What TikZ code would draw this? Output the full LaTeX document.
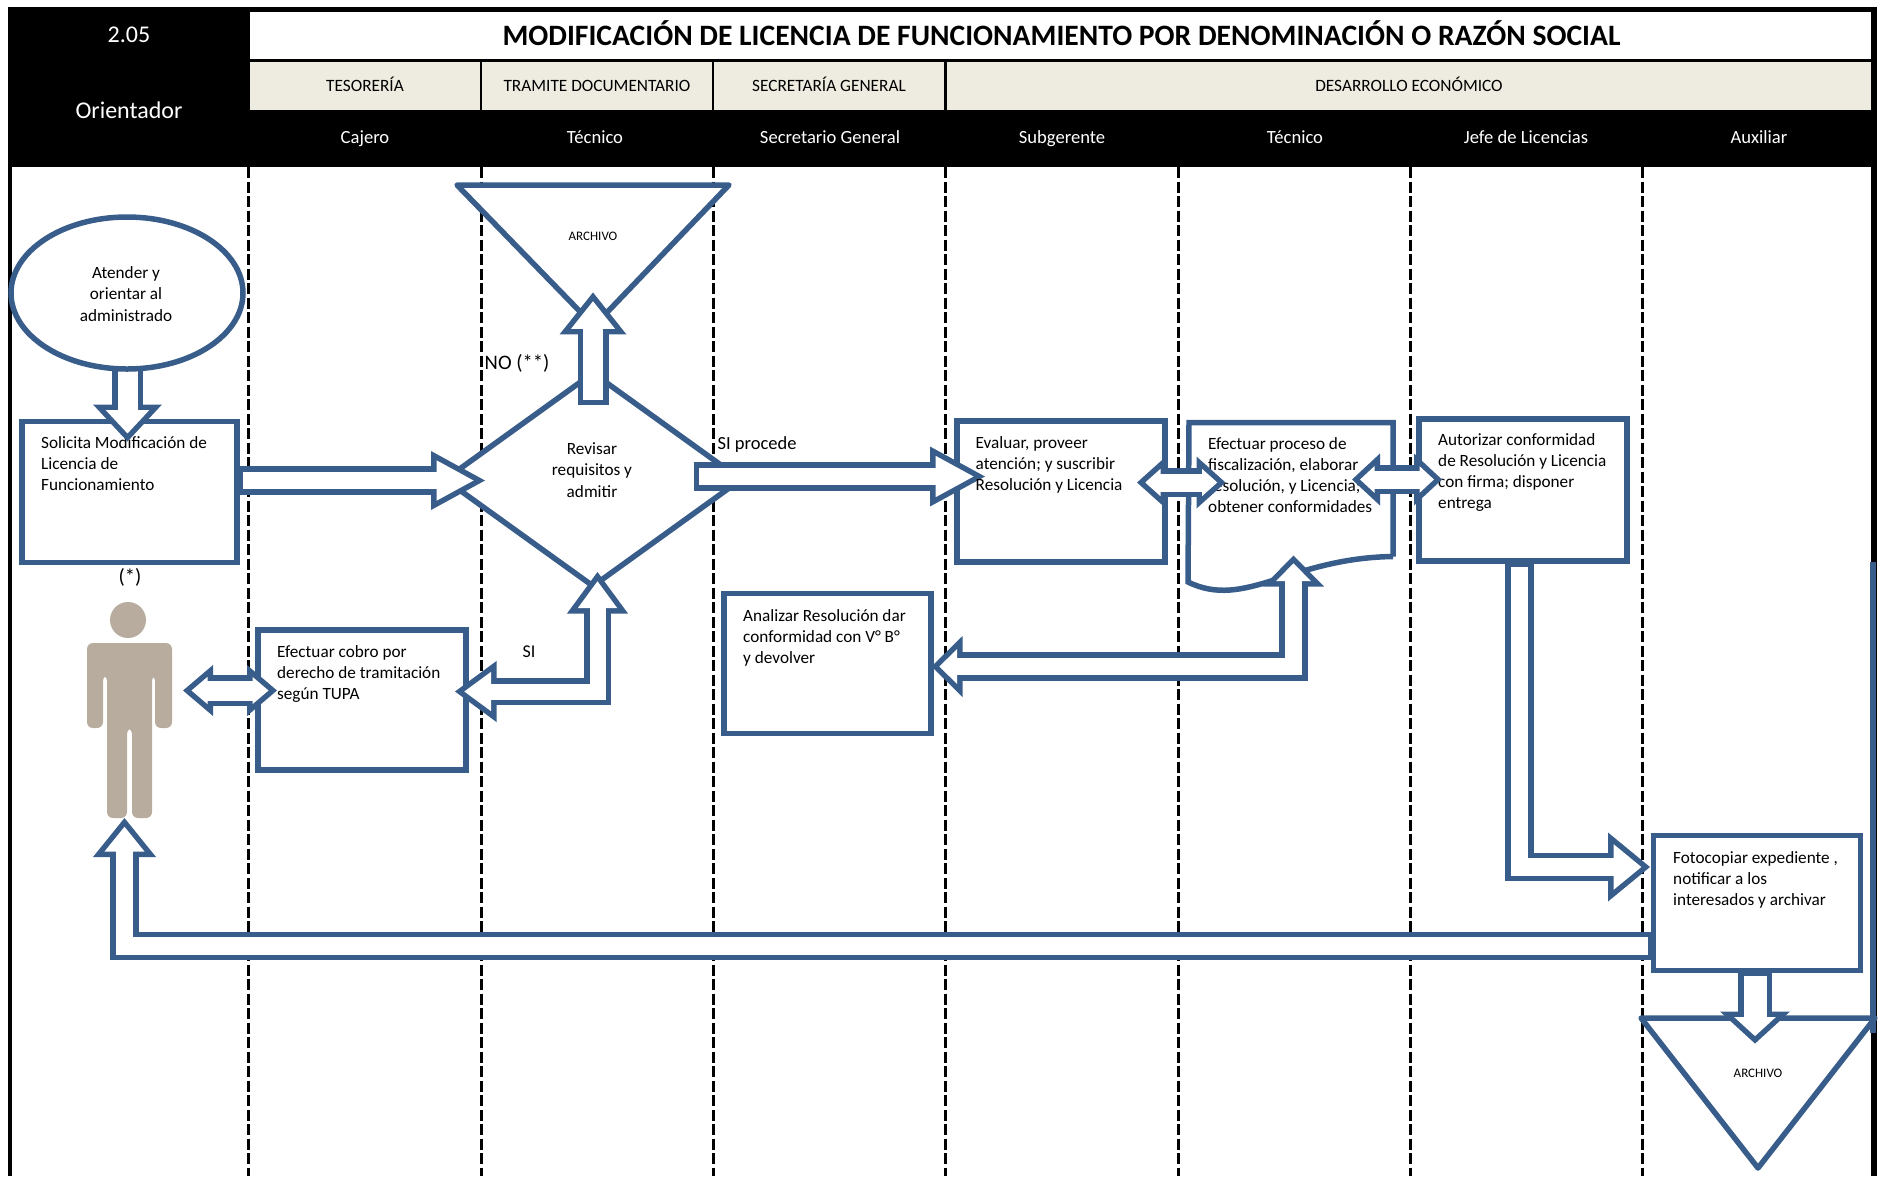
\documentclass[tikz,border=0pt]{standalone}
\usepackage{fontspec}
\setmainfont{Carlito}
\usetikzlibrary{arrows.meta,shapes.geometric}

\definecolor{flowblue}{HTML}{385D8A}
\definecolor{deptbeige}{HTML}{EEECE1}
\definecolor{personfill}{HTML}{B8AC9E}

\tikzset{
	lane/.style={draw=black,line width=3pt,dash pattern=on 11pt off 3.5pt},
	deptcell/.style={fill=deptbeige,minimum height=48pt,inner sep=0pt,text height=12pt,text depth=2pt,font=\fontsize{17.3}{20}\selectfont},
	rolename/.style={text=white,inner sep=0pt,text height=13pt,text depth=4pt,font=\fontsize{18.6}{22}\selectfont},
	pasobox/.style={draw=flowblue,fill=white,line width=5.5pt,line join=miter,inner sep=0pt,outer sep=0pt},
	pasotext/.style={anchor=north west,align=left,inner sep=0pt,execute at begin node={\rule{0pt}{13pt}},font=\fontsize{17.2}{21}\selectfont},
	centertext/.style={align=center,inner sep=0pt,execute at begin node={\rule{0pt}{13pt}},font=\fontsize{17.2}{21.5}\selectfont},
	archivotext/.style={inner sep=0pt,font=\fontsize{13}{15}\selectfont},
	marktext/.style={inner sep=0pt,font=\fontsize{20.6}{24}\selectfont},
	flowout/.style={draw=flowblue,line join=miter},
	flowin/.style={draw=white,line join=miter},
	tipend/.style 2 args={-{Triangle[length=#1pt,width=#2pt,line width=0pt]}},
	tipboth/.style 2 args={{Triangle[length=#1pt,width=#2pt,line width=0pt]}-{Triangle[length=#1pt,width=#2pt,line width=0pt]}},
	tipendouter/.style={shorten <=0pt},
	tipbothouter/.style={shorten <=\outercut pt},
	tipendcut/.style={shorten <=5.5pt},
	tipbothcut/.style={shorten <=\headcut pt},
	tipendbody/.style={shorten <=5.5pt},
	tipbothbody/.style={shorten <=\bodycut pt},
}

% tip kind, head length, head width, shaft width, path
\newcommand{\flow}[5]{%
	\pgfmathsetmacro{\headcut}{5.5/sin(atan2(#3/2,#2))}
	\pgfmathsetmacro{\innerlen}{#2-5.5-\headcut}
	\pgfmathsetmacro{\innerwid}{#3*\innerlen/#2}
	\pgfmathsetmacro{\innershaft}{#4-11}
	\pgfmathsetmacro{\bodycut}{\headcut+\innerlen-3}
	\pgfmathsetmacro{\outercut}{#2-3}
	\draw[flowout,line width=#4pt,#1={#2}{#3}] #5;
	\draw[flowout,line width=#4pt,shorten >=\outercut pt,#1outer] #5;
	\draw[flowin,line width=\innershaft pt,#1={\innerlen}{\innerwid},shorten >=\headcut pt,#1cut] #5;
	\draw[flowin,line width=\innershaft pt,shorten >=\bodycut pt,#1body] #5;
}

\begin{document}
\begin{tikzpicture}[x=1pt,y=-1pt]
	\useasboundingbox (0,0) rectangle (1881,1176);
	
	% Swim lanes
	\foreach \lanex in {248,481,713,945,1178,1410,1642}
		\draw[lane] (\lanex,167) -- (\lanex,1176);
	
	% Frame and header
	\fill[black] (8,7) rectangle (1877,167);
	\fill[black] (8,167) rectangle (12,1176);
	\fill[black] (1871,167) rectangle (1877,1176);
	\fill[flowblue] (1870,562) rectangle (1876,1033);
	\node[fill=white,minimum width=1621pt,minimum height=47pt,inner sep=0pt,font=\fontsize{29.6}{34}\selectfont\bfseries] (titulo) at (1060.5,35.5) {\hspace*{2pt}\raisebox{4pt}{MODIFICACIÓN DE LICENCIA DE FUNCIONAMIENTO POR DENOMINACIÓN O RAZÓN SOCIAL}};
	\node[rolename,font=\fontsize{24}{28}\selectfont] (codigo) at (129,38) {2.05};
	\node[rolename,font=\fontsize{24}{28}\selectfont] (orientador) at (129,114) {Orientador};
	
	\node[deptcell,minimum width=230pt] (tesoreria) at (365,86) {TESORERÍA};
	\node[deptcell,minimum width=230pt] (tramite) at (597,86) {TRAMITE DOCUMENTARIO};
	\node[deptcell,minimum width=230pt] (secretaria) at (829,86) {SECRETARÍA GENERAL};
	\node[deptcell,minimum width=924pt] (desarrollo) at (1409,86) {DESARROLLO ECONÓMICO};
	
	\node[rolename] (cajero) at (365,139) {Cajero};
	\node[rolename] (tecnicoa) at (595,139) {Técnico};
	\node[rolename] (secretario) at (830,139) {Secretario General};
	\node[rolename] (subgerente) at (1062,139) {Subgerente};
	\node[rolename] (tecnicob) at (1295,139) {Técnico};
	\node[rolename] (jefe) at (1526,139) {Jefe de Licencias};
	\node[rolename] (auxiliar) at (1759,139) {Auxiliar};
	
	% Archive triangles
	\draw[pasobox,line join=round] (457,185) -- (729,185) -- (594,326) -- cycle;
	\node[archivotext] (archivoa) at (593,236) {ARCHIVO};
	\draw[pasobox,line join=round] (1641,1018) -- (1875,1018) -- (1758,1168) -- cycle;
	\node[archivotext] (archivob) at (1758,1073) {ARCHIVO};
	
	% Steps
	\node[pasobox,minimum width=215pt,minimum height=141pt] (solicita) at (129.5,492) {};
	\node[pasotext] (solicitatxt) at (41,436) {Solicita Modificación de\\Licencia de\\Funcionamiento};
	\node[pasobox,diamond,minimum width=296pt,minimum height=213pt] (revisar) at (593,479.5) {};
	\node[centertext] (revisartxt) at (592,470) {Revisar\\requisitos y\\admitir};
	\node[pasobox,minimum width=208pt,minimum height=141pt] (evaluar) at (1061,491.5) {};
	\node (efectuar) [minimum width=204pt,minimum height=134pt,inner sep=0pt,outer sep=0pt] at (1291,489.5) {};
	\draw[pasobox] (efectuar.south east) -- (efectuar.north east) -- (efectuar.north west) -- (1188,582) .. controls (1245,610) and (1290,558) .. (efectuar.south east);
	\node[pasotext] (efectuartxt) at (1208,437) {Efectuar proceso de\\fiscalización, elaborar\\resolución, y Licencia;\\obtener conformidades};
	\node[pasobox,minimum width=208pt,minimum height=142pt] (autorizar) at (1523,490) {};
	\node[pasotext] (autorizartxt) at (1438,433) {Autorizar conformidad\\de Resolución y Licencia\\con firma; disponer\\entrega};
	\node[pasobox,minimum width=208pt,minimum height=140pt] (cobro) at (362,700) {};
	\node[pasotext] (cobrotxt) at (277,645) {Efectuar cobro por\\derecho de tramitación\\según TUPA};
	\node[pasobox,minimum width=207pt,minimum height=140pt] (analizar) at (827.5,663.5) {};
	\node[pasotext] (analizartxt) at (743,609) {Analizar Resolución dar\\conformidad con V° B°\\y devolver};
	\node[pasobox,minimum width=207pt,minimum height=135pt] (fotocopiar) at (1757,903) {};
	\node[pasotext] (fotocopiartxt) at (1673,851) {Fotocopiar expediente ,\\notificar a los\\interesados  y archivar};
	
	% Person
	\node[minimum width=85pt,minimum height=206pt,inner sep=0pt,outer sep=0pt] (persona) at (128,715) {};
	\fill[personfill] (128,620) circle (18);
	\fill[personfill,rounded corners=6pt] (87,643) -- (172,643) -- (172,728) -- (155,728) -- (155,675) -- (152,675) -- (152,818) -- (132,818) -- (132,728) -- (127,728) -- (127,818) -- (107,818) -- (107,675) -- (103,675) -- (103,728) -- (87,728) -- cycle;
	\node[marktext] (asterisco) at (130,577) {(*)};
	
	% Block arrows
	\node[pasobox,ellipse,draw=none,fill=none,minimum width=232pt,minimum height=152pt] (atender) at (127,293) {};
	\flow{tipend}{37}{69}{31}{([xshift=.5pt,yshift=5pt]atender.south) -- ([xshift=-2pt,yshift=-20pt]solicita.north)}
	\node[pasobox,ellipse,minimum width=232pt,minimum height=152pt] at (atender) {};
	\node[centertext] (atendertxt) at (126,294) {Atender  y\\orientar al\\administrado};
	\flow{tipend}{54}{59}{28.5}{([yshift=11.5pt]solicita.east) -- ([xshift=40pt,yshift=-1pt]revisar.west)}
	\flow{tipend}{42}{67}{31}{([yshift=74.5pt]revisar.center) -- ([yshift=-52pt]archivoa.south)}
	\flow{tipend}{55}{60}{28.5}{([xshift=100.5pt,yshift=3pt]revisar.center) -- ([xshift=28pt,yshift=15pt]evaluar.west)}
	\node[pasotext] (evaluartxt) at (975.5,436.5) {Evaluar,  proveer\\atención; y suscribir\\Resolución  y Licencia};
	\flow{tipboth}{29}{52}{29}{([xshift=-28pt,yshift=9pt]evaluar.east) -- ([xshift=36.5pt,yshift=7pt]efectuar.west)}
	\flow{tipboth}{28}{52}{29}{([xshift=-41pt,yshift=10pt]efectuar.east) -- ([xshift=23pt,yshift=10.5pt]autorizar.west)}
	\flow{tipend}{42}{69}{28.5}{([xshift=-3.5pt]autorizar.south) |- ([xshift=-3.5pt,yshift=36pt]fotocopiar.west)}
	\flow{tipend}{39}{63}{28.5}{([yshift=-43pt]fotocopiar.west) -| ([xshift=-3.5pt]persona.south)}
	\flow{tipend}{32}{70}{34}{([xshift=-2pt]fotocopiar.south) -- ([xshift=-3pt,yshift=25pt]archivob.north)}
	\flow{tipboth}{30}{51}{31}{([xshift=12.5pt,yshift=24.5pt]persona.east) -- ([xshift=19pt,yshift=9.5pt]cobro.west)}
	\flow{tipboth}{41.5}{61}{27}{([xshift=4.5pt,yshift=14pt]revisar.south) |- ([xshift=-11pt,yshift=8.5pt]cobro.east)}
	\flow{tipboth}{31}{61}{28.5}{([xshift=2.5pt,yshift=1pt]efectuar.south) |- ([xshift=.5pt,yshift=-3pt]analizar.east)}
	
	% Branch labels
	\node[marktext] (noprocede) at (517,363) {NO (**)};
	\node[marktext,font=\fontsize{18.5}{22}\selectfont] (siprocede) at (757,445) {SI procede};
	\node[marktext,font=\fontsize{18}{22}\selectfont] (sicobro) at (529,652) {SI};
\end{tikzpicture}
\end{document}
